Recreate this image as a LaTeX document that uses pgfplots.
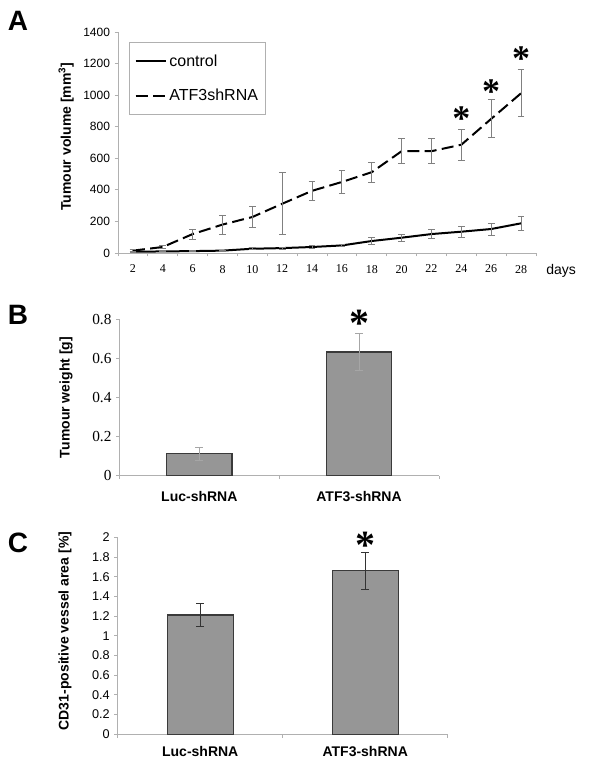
\documentclass[border=0pt]{standalone}
\usepackage{fontspec}
\setmainfont{Liberation Sans}
\newfontfamily\serif{Liberation Serif}
\usepackage{pgfplots}
\pgfplotsset{compat=1.18}
\definecolor{axisgray}{HTML}{B0B0B0}
\definecolor{barfill}{HTML}{969696}
\definecolor{baredge}{HTML}{3A3A3A}
\newcommand{\fs}[1]{\fontsize{#1}{#1}\selectfont}
\pgfplotsset{
  panel/.style={
    scale only axis,
    anchor=south west,
    axis x line=bottom, axis y line=left,
    axis line style={axisgray, line width=0.75pt, -},
    tick align=outside,
    major tick length=2.5pt,
    tick style={axisgray, line width=0.6pt},
    clip=false,
    /pgf/number format/assume math mode=true,
    /pgf/number format/1000 sep={},
    x tick label as interval,
    every axis y label/.style={rotate=90, anchor=center, font=\bfseries\fs{10.5}},
  },
}
\begin{document}
\begin{tikzpicture}
\path[use as bounding box] (0,0) rectangle (450pt,-586.5pt);
\node[font=\bfseries\fs{21}] at (13.5pt,-16pt) {A};
\node[font=\bfseries\fs{21}] at (13.5pt,-236.3pt) {B};
\node[font=\bfseries\fs{21}] at (13.5pt,-407.3pt) {C};

% ---------------- Panel A ----------------
\begin{axis}[panel, at={(88.5pt,-189.75pt)}, width=313.5pt, height=165.75pt,
  xmin=1, xmax=29, ymin=0, ymax=1400,
  xtick={1,3,5,7,9,11,13,15,17,19,21,23,25,27,29},
  xticklabels={2,4,6,8,10,12,14,16,18,20,22,24,26,28},
  ytick={0,200,400,600,800,1000,1200,1400},
  xticklabel style={font=\serif\fs{9}, yshift=-3pt},
  yticklabel style={font=\fs{9}},
  every axis y label/.append style={at={(axis description cs:-0.124,0.527)}},
  ylabel={Tumour volume [mm\textsuperscript{3}]},
  xlabel={days},
  every axis x label/.style={at={(axis description cs:1.024,-0.08)}, anchor=west, inner sep=0pt, font=\fs{10.5}},
  legend style={at={(0.026,0.955)}, anchor=north west, draw=axisgray, line width=0.75pt,
    font=\fs{12}, inner xsep=4pt, inner ysep=7pt, row sep=12pt, cells={anchor=west}},
  legend image code/.code={\draw[#1, line width=1.5pt] (0pt,0pt) -- (22.5pt,0pt);},
]
\addplot[black, line width=1.5pt,
  error bars/.cd, y dir=both, y explicit,
  error bar style={gray, line width=0.75pt, solid},
  error mark options={rotate=90, mark size=2.5pt, gray, line width=0.75pt, solid}]
coordinates {
 (2,8) +- (0,3)
 (4,10) +- (0,3)
 (6,12) +- (0,3)
 (8,15) +- (0,4)
 (10,27) +- (0,7)
 (12,31) +- (0,7)
 (14,38) +- (0,9)
 (16,48) +- (0,9)
 (18,76) +- (0,20)
 (20,97) +- (0,22)
 (22,120) +- (0,28)
 (24,135) +- (0,35)
 (26,152) +- (0,38)
 (28,188) +- (0,45)
};
\addlegendentry{control}
\addplot[black, line width=1.5pt, dash pattern=on 9pt off 4pt,
  error bars/.cd, y dir=both, y explicit,
  error bar style={gray, line width=0.75pt, solid},
  error mark options={rotate=90, mark size=2.5pt, gray, line width=0.75pt, solid}]
coordinates {
 (2,15) +- (0,5)
 (4,38) +- (0,12)
 (6,120) +- (0,32)
 (8,180) +- (0,60)
 (10,228) +- (0,65)
 (12,312) +- (0,195)
 (14,394) +- (0,62)
 (16,450) +- (0,75)
 (18,512) +- (0,64)
 (20,645) +- (0,81)
 (22,645) +- (0,81)
 (24,686) +- (0,97)
 (26,850) +- (0,121)
 (28,1012) +- (0,150)
};
\addlegendentry{ATF3shRNA}
\addplot[draw=none, mark=none, forget plot,
  nodes near coords={\raisebox{-0.48em}{*}},
  every node near coord/.style={anchor=base, inner sep=0pt, font=\serif\bfseries\fs{27}}]
coordinates {(24,885) (26,1054) (28,1267)};
\end{axis}

% ---------------- Panel B ----------------
\begin{axis}[panel, at={(89.6pt,-356.8pt)}, width=239.6pt, height=117.3pt,
  xmin=0.5, xmax=2.5, ymin=0, ymax=0.8,
  ytick={0,0.2,0.4,0.6,0.8},
  xtick={0.5,1.5,2.5}, xticklabels={Luc-shRNA,ATF3-shRNA},
  xticklabel style={font=\bfseries\fs{10.5}, yshift=-6pt},
  yticklabel style={font=\serif\fs{11.5}},
  every axis y label/.append style={at={(axis description cs:-0.167,0.5)}},
  ylabel={Tumour weight [g]},
]
\addplot[ybar, bar width=0.41, fill=barfill, draw=baredge, line width=0.9pt,
  error bars/.cd, y dir=both, y explicit,
  error bar style={black!35, line width=0.5pt},
  error mark options={rotate=90, mark size=3pt, black!35, line width=0.5pt}]
coordinates {(1,0.113) +- (0,0.034) (2,0.633) +- (0,0.093)};
\addplot[draw=none, mark=none, forget plot,
  nodes near coords={\raisebox{-0.48em}{*}},
  every node near coord/.style={anchor=base, inner sep=0pt, font=\serif\bfseries\fs{30}}]
coordinates {(2,0.81)};
\end{axis}

% ---------------- Panel C ----------------
\begin{axis}[panel, at={(88.3pt,-550.7pt)}, width=247.5pt, height=147.75pt,
  xmin=0.5, xmax=2.5, ymin=0, ymax=2,
  ytick={0,0.2,0.4,0.6,0.8,1,1.2,1.4,1.6,1.8,2},
  xtick={0.5,1.5,2.5}, xticklabels={Luc-shRNA,ATF3-shRNA},
  xticklabel style={font=\bfseries\fs{10.5}, yshift=-3pt},
  yticklabel style={font=\fs{9.5}},
  every axis y label/.append style={at={(axis description cs:-0.160,0.524)}},
  ylabel={CD31-positive vessel area [\%]},
]
\addplot[ybar, bar width=0.40, fill=barfill, draw=baredge, line width=0.9pt,
  error bars/.cd, y dir=both, y explicit,
  error bar style={black!80, line width=0.75pt},
  error mark options={rotate=90, mark size=3pt, black!80, line width=0.75pt}]
coordinates {(1,1.211) +- (0,0.113) (2,1.659) +- (0,0.186)};
\addplot[draw=none, mark=none, forget plot,
  nodes near coords={\raisebox{-0.48em}{*}},
  every node near coord/.style={anchor=base, inner sep=0pt, font=\serif\bfseries\fs{30}}]
coordinates {(2,1.98)};
\end{axis}
\end{tikzpicture}
\end{document}
